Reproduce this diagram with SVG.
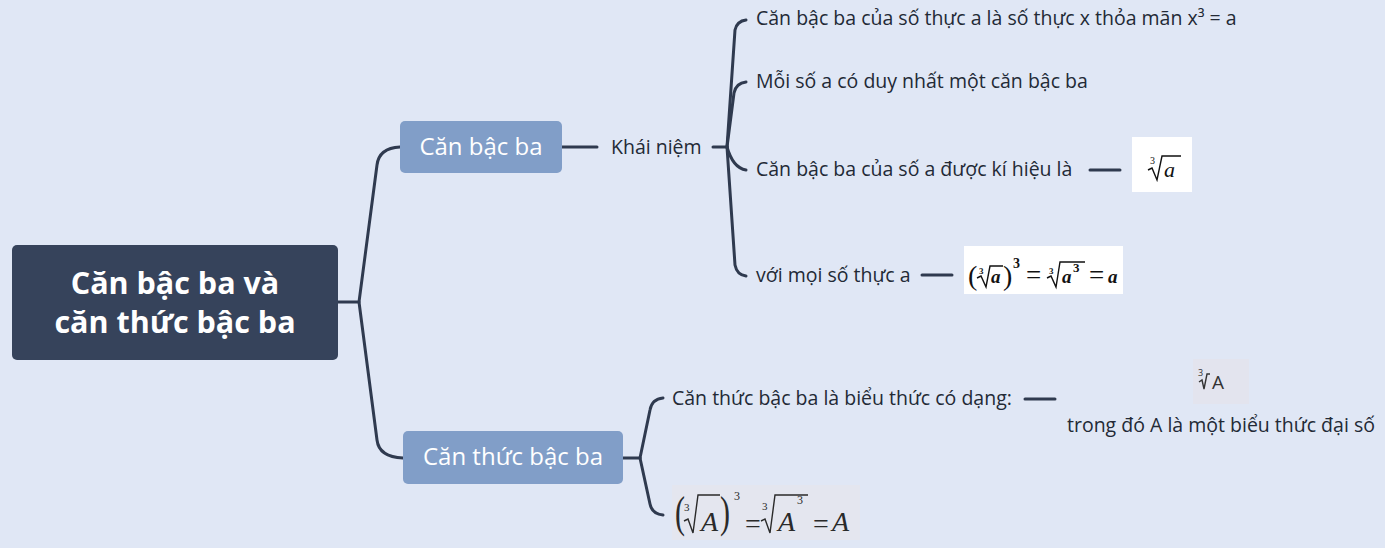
<svg xmlns="http://www.w3.org/2000/svg" width="1385" height="548" viewBox="0 0 1385 548">
<style>
.t{font-family:"Open Sans","Noto Sans","DejaVu Sans",sans-serif;font-size:19.5px;fill:#232a36}
.root{font-family:"Open Sans","Noto Sans",sans-serif;font-size:30.5px;font-weight:bold;fill:#ffffff}
.sub{font-family:"Open Sans","Noto Sans",sans-serif;font-size:24px;fill:#ffffff}
.c{fill:none;stroke:#2f3a4f;stroke-width:3;stroke-linecap:round}
.m{font-family:"Liberation Serif","DejaVu Serif",serif;fill:#111}
.mi{font-family:"Liberation Serif","DejaVu Serif",serif;font-style:italic;font-weight:bold;fill:#111}
.rad{fill:none;stroke:#111;stroke-width:1.4;stroke-linejoin:miter}
.m2{font-family:"Liberation Serif","DejaVu Serif",serif;fill:#2a2a2a}
.mi2{font-family:"Liberation Serif","DejaVu Serif",serif;font-style:italic;fill:#2a2a2a}
.rad2{fill:none;stroke:#2a2a2a;stroke-width:1.4}
</style>
<rect width="1385" height="548" fill="#e0e7f5"/>
<g id="connectors">
<path class="c" d="M338 302 H359 M359 302 L377 165 Q379 148 400 147"/>
<path class="c" d="M359 302 L377 440 Q379 457 403 458"/>
<path class="c" d="M562 147 H597"/>
<path class="c" d="M713 147 H727"/>
<path class="c" d="M727 147 L735 30 Q737 21 746 20"/>
<path class="c" d="M727 147 L734 93 Q736 83 746 82"/>
<path class="c" d="M727 147 Q733 168 746 170"/>
<path class="c" d="M727 147 L735 265 Q737 275 746 276"/>
<path class="c" d="M1090 170 H1120"/>
<path class="c" d="M922 275 H952"/>
<path class="c" d="M623 458 H640"/>
<path class="c" d="M640 458 L650 410 Q652 399 663 398"/>
<path class="c" d="M640 458 L650 504 Q652 514 663 515"/>
<path class="c" d="M1025 399 H1055"/>
</g>
<g id="root">
<rect x="12" y="245" width="326" height="115" rx="5" fill="#36435b"/>
<text class="root" x="175" y="294" text-anchor="middle">Căn bậc ba và</text>
<text class="root" x="175" y="333" text-anchor="middle">căn thức bậc ba</text>
</g>
<g id="can-bac-ba">
<rect x="400" y="121" width="162" height="52" rx="5" fill="#819ec8"/>
<text class="sub" x="481" y="155" text-anchor="middle">Căn bậc ba</text>
</g>
<g id="can-thuc-bac-ba">
<rect x="403" y="431" width="220" height="53" rx="5" fill="#819ec8"/>
<text class="sub" x="513" y="465" text-anchor="middle">Căn thức bậc ba</text>
</g>
<g id="khai-niem">
<text class="t" x="611" y="154">Khái niệm</text>
</g>
<g id="dinh-nghia">
<text class="t" x="756" y="25">Căn bậc ba của số thực a là số thực x thỏa mãn x³ = a</text>
</g>
<g id="duy-nhat">
<text class="t" x="756" y="88">Mỗi số a có duy nhất một căn bậc ba</text>
</g>
<g id="ki-hieu">
<text class="t" x="756" y="176">Căn bậc ba của số a được kí hiệu là</text>
</g>
<g id="ki-hieu-img">
<rect x="1132" y="137" width="60" height="55" fill="#ffffff"/>
<text class="m" x="1150" y="164" font-size="10">3</text>
<path class="rad" d="M1148 170 L1152 168 L1157 180 L1162 156 H1181"/>
<text class="mi2" x="1164" y="177" font-size="22" style="fill:#111">a</text>
</g>
<g id="moi-so-thuc">
<text class="t" x="756" y="282">với mọi số thực a</text>
</g>
<g id="cong-thuc-1">
<rect x="964" y="246" width="159" height="48" fill="#ffffff"/>
<text class="m" x="968" y="285" font-size="28">(</text>
<text class="m" x="979" y="274" font-size="9" font-weight="bold">3</text>
<path class="rad" d="M977 278 L981 276 L986 287 L990 266 H1003"/>
<text class="mi" x="991" y="283" font-size="19">a</text>
<text class="m" x="1003" y="285" font-size="28">)</text>
<text class="m" x="1013" y="268" font-size="14" font-weight="bold">3</text>
<text class="m" x="1026" y="284" font-size="27">=</text>
<text class="m" x="1049" y="274" font-size="9" font-weight="bold">3</text>
<path class="rad" d="M1047 278 L1051 276 L1056 287 L1060 262 H1085"/>
<text class="mi" x="1062" y="283" font-size="19">a</text>
<text class="m" x="1073" y="272" font-size="13" font-weight="bold">3</text>
<text class="m" x="1089" y="284" font-size="27">=</text>
<text class="mi" x="1108" y="283" font-size="19">a</text>
</g>
<g id="can-thuc-def">
<text class="t" x="672" y="405">Căn thức bậc ba là biểu thức có dạng:</text>
</g>
<g id="can-A-img">
<rect x="1193" y="359" width="56" height="45" fill="#e3e4ee"/>
<text x="1198" y="376" font-size="9" font-family="'Open Sans',sans-serif" fill="#333">3</text>
<path fill="none" stroke="#333" stroke-width="1.4" d="M1199 382 L1202 380 L1204 389 L1207 374 H1210"/>
<text x="1212" y="389" font-size="19" font-family="'Open Sans',sans-serif" fill="#333">A</text>
</g>
<g id="trong-do">
<text class="t" x="1067" y="432">trong đó A là một biểu thức đại số</text>
</g>
<g id="cong-thuc-2">
<rect x="672" y="485" width="188" height="55" fill="#e4e6ef"/>
<text class="m2" font-size="30" transform="translate(675 527) scale(1 1.5)">(</text>
<text class="m2" x="684" y="511" font-size="11">3</text>
<path class="rad2" d="M684 521 L688 519 L693 533 L698 495 H720"/>
<text class="mi2" x="701" y="531" font-size="28">A</text>
<text class="m2" font-size="30" transform="translate(720 527) scale(1 1.5)">)</text>
<text class="m2" x="734" y="500" font-size="12">3</text>
<text class="m2" x="745" y="533" font-size="28">=</text>
<text class="m2" x="762" y="510" font-size="11">3</text>
<path class="rad2" d="M761 521 L765 519 L770 533 L775 495 H808"/>
<text class="mi2" x="778" y="531" font-size="28">A</text>
<text class="m2" x="797" y="504" font-size="12">3</text>
<text class="m2" x="813" y="533" font-size="28">=</text>
<text class="mi2" x="832" y="531" font-size="28">A</text>
</g>
</svg>
